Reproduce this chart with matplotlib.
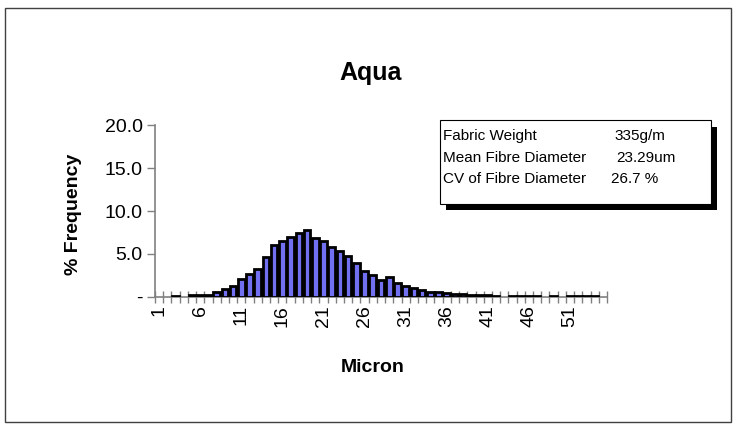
import matplotlib
matplotlib.use("Agg")
import matplotlib.pyplot as plt
from matplotlib.patches import Rectangle

plt.rcParams['font.family'] = ['Liberation Sans', 'DejaVu Sans']

# micron classes and % frequency
microns = list(range(1, 56))
freq = [0, 0, 0.1, 0, 0.15, 0.15, 0.2, 0.6, 0.9, 1.3,
        2.1, 2.6, 3.2, 4.6, 6.0, 6.5, 7.0, 7.4, 7.8, 6.9,
        6.5, 5.8, 5.3, 4.7, 3.9, 3.0, 2.5, 2.0, 2.3, 1.6,
        1.3, 1.05, 0.75, 0.55, 0.5, 0.45, 0.3, 0.3, 0.25, 0.15,
        0.15, 0.12, 0, 0.1, 0.1, 0.1, 0.1, 0, 0.1, 0,
        0.1, 0.1, 0.1, 0.1, 0]
label_microns = [1, 6, 11, 16, 21, 26, 31, 36, 41, 46, 51]
y_ticks = [0, 5, 10, 15, 20]
y_labels = ['-', '5.0', '10.0', '15.0', '20.0']

info_names = ['Fabric Weight', 'Mean Fibre Diameter', 'CV of Fibre Diameter']
info_values = ['335g/m', '23.29um', '26.7 %']

W, H = 736, 426
fig = plt.figure(figsize=(W / 100, H / 100), dpi=100)

def px(x, y):
    return x / W, 1 - y / H

# outer frame
fig.patches.append(Rectangle(px(5, 422), 726 / W, 414 / H, transform=fig.transFigure,
                             fill=False, edgecolor='#404040', linewidth=1.0))

ax = fig.add_axes([155 / W, 1 - 296.7 / H, 452 / W, 171.4 / H])
ax.set_facecolor('none')

lws = [2.0 if v > 0 else 0 for v in freq]
ax.bar(microns, freq, width=0.8, color='#7070f0', edgecolor='black', linewidth=lws,
       zorder=3)

ax.set_xlim(0.5, 55.5)
ax.set_ylim(0, 20)
for s in ['top', 'right']:
    ax.spines[s].set_visible(False)
for s in ['left', 'bottom']:
    ax.spines[s].set_color('#808080')
    ax.spines[s].set_linewidth(1.2)

# category boundaries as major ticks, labels at class centres
ax.set_xticks([m - 0.5 for m in microns] + [microns[-1] + 0.5])
ax.set_xticklabels([])
ax.tick_params(axis='x', which='major', direction='inout', length=9, width=1.0,
               color='#808080')
ax.set_xticks(label_microns, minor=True)
ax.set_xticklabels([str(m) for m in label_microns], minor=True, rotation=90,
                   fontsize=14, va='top', ha='center')
ax.tick_params(axis='x', which='minor', length=0, pad=6)

ax.set_yticks(y_ticks)
ax.set_yticklabels(y_labels, fontsize=14)
ax.tick_params(axis='y', direction='out', length=6, width=1.0, color='#808080', pad=3)

fig.text(*px(371, 73), 'Aqua', fontsize=18, fontweight='bold', ha='center', va='center')
fig.text(*px(373, 368), 'Micron', fontsize=14, fontweight='bold', ha='center', va='center')
fig.text(*px(73, 214), '% Frequency', fontsize=14, fontweight='bold', rotation=90,
         ha='center', va='center')

# info box with drop shadow
fig.patches.append(Rectangle(px(446, 210), 271 / W, 83 / H, transform=fig.transFigure,
                             facecolor='black', edgecolor='black', linewidth=0))
fig.patches.append(Rectangle(px(440, 204), 271 / W, 84 / H, transform=fig.transFigure,
                             facecolor='white', edgecolor='black', linewidth=0.8))
for i, (n, v) in enumerate(zip(info_names, info_values)):
    y = 136 + i * 21.5
    fig.text(*px(443, y), n, fontsize=11, ha='left', va='center')
    fig.text(*px(614 - (3 if i == 2 else 0) + (2 if i == 1 else 0), y), v,
             fontsize=11, ha='left', va='center')

fig.savefig('out.png', dpi=100)
